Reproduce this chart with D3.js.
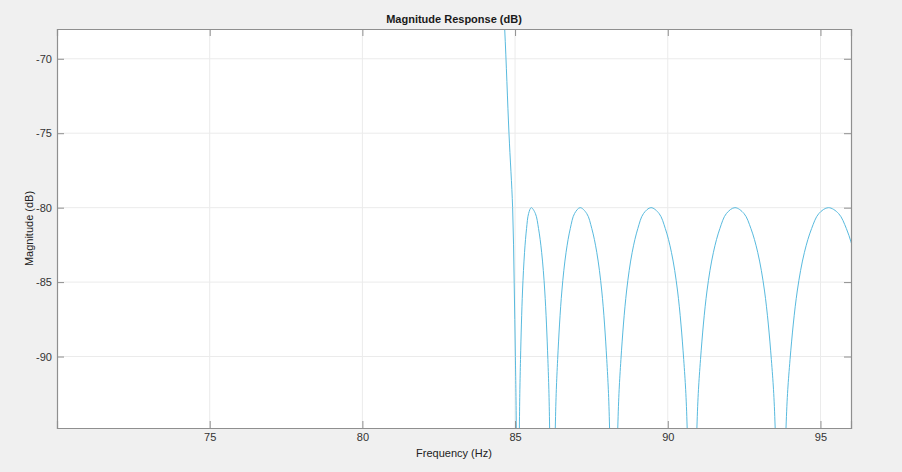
<!DOCTYPE html>
<html lang="en">

<head>
    <meta charset="UTF-8" />
    <title>Magnitude Response (dB)</title>
    <script src="https://d3js.org/d3.v7.min.js"></script>
    <style>
        body { margin: 0; background: #f0f0f0; }
        text { font-family: "Liberation Sans", Arial, Helvetica, sans-serif; }
    </style>
</head>

<body>
    <div id="chart"></div>

    <script>
        var w = 902;
        var h = 472;
        var margin = { top: 29, right: 51, bottom: 44, left: 57 };

        var freqHz = [84.50, 84.66, 84.80, 84.92, 84.97, 85.01, 85.04, 85.09,
            85.141, 85.178, 85.244, 85.31, 85.376, 85.442, 85.53, 85.666, 85.768, 85.87, 85.972, 86.074, 86.131, 86.21,
            86.317, 86.394, 86.532, 86.67, 86.808, 86.946, 87.13, 87.348, 87.512, 87.675, 87.839, 88.002, 88.094, 88.22,
            88.363, 88.466, 88.651, 88.835, 89.02, 89.204, 89.45, 89.718, 89.919, 90.12, 90.321, 90.522, 90.635, 90.79,
            90.954, 91.072, 91.284, 91.495, 91.707, 91.918, 92.20, 92.498, 92.722, 92.945, 93.169, 93.392, 93.517, 93.69,
            93.872, 94.004, 94.24, 94.475, 94.711, 94.946, 95.26, 95.596, 95.848, 96.00, 96.10];
        var magDb = [-62, -68, -75, -80, -85, -90, -94.8, -130,
            -94.8, -90.2, -85.6, -83.0, -81.4, -80.4, -80, -80.4, -81.4, -83.0, -85.6, -90.2, -94.8, -130,
            -94.8, -90.2, -85.6, -83.0, -81.4, -80.4, -80, -80.4, -81.4, -83.0, -85.6, -90.2, -94.8, -130,
            -94.8, -90.2, -85.6, -83.0, -81.4, -80.4, -80, -80.4, -81.4, -83.0, -85.6, -90.2, -94.8, -130,
            -94.8, -90.2, -85.6, -83.0, -81.4, -80.4, -80, -80.4, -81.4, -83.0, -85.6, -90.2, -94.8, -130,
            -94.8, -90.2, -85.6, -83.0, -81.4, -80.4, -80, -80.4, -81.4, -82.3, -83.0];

        var xTicks = [75, 80, 85, 90, 95];
        var yTicks = [-70, -75, -80, -85, -90];
        var xLimits = [70, 96];
        var yLimits = [-94.8, -68];

        var data = freqHz.map(function (f, i) { return { f: f, db: magDb[i] }; });

        var svg = d3.select("#chart")
            .append("svg")
            .attr("width", w)
            .attr("height", h);

        var xScale = d3.scaleLinear()
            .domain(xLimits)
            .range([margin.left, w - margin.right]);

        var yScale = d3.scaleLinear()
            .domain(yLimits)
            .range([h - margin.bottom, margin.top]);

        var pw = w - margin.left - margin.right;
        var ph = h - margin.top - margin.bottom;

        // White plot area
        svg.append("rect")
            .attr("x", margin.left)
            .attr("y", margin.top)
            .attr("width", pw)
            .attr("height", ph)
            .style("fill", "#ffffff");

        // Grid lines
        svg.selectAll(".xgrid")
            .data(xTicks)
            .enter()
            .append("line")
            .attr("x1", function (d) { return xScale(d); })
            .attr("x2", function (d) { return xScale(d); })
            .attr("y1", margin.top)
            .attr("y2", h - margin.bottom)
            .style("stroke", "#ebebeb")
            .style("stroke-width", 1);

        svg.selectAll(".ygrid")
            .data(yTicks)
            .enter()
            .append("line")
            .attr("x1", margin.left)
            .attr("x2", w - margin.right)
            .attr("y1", function (d) { return yScale(d); })
            .attr("y2", function (d) { return yScale(d); })
            .style("stroke", "#ebebeb")
            .style("stroke-width", 1);

        // Response line, clipped to the plot area
        svg.append("clipPath")
            .attr("id", "clip")
            .append("rect")
            .attr("x", margin.left)
            .attr("y", margin.top)
            .attr("width", pw)
            .attr("height", ph);

        var line = d3.line()
            .x(function (d) { return xScale(d.f); })
            .y(function (d) { return yScale(d.db); })
            .curve(d3.curveCatmullRom.alpha(0.5));

        svg.append("path")
            .datum(data)
            .attr("clip-path", "url(#clip)")
            .attr("d", line)
            .style("fill", "none")
            .style("stroke", "#58bade")
            .style("stroke-width", 1);

        // Axes: ticks pointing inward on all four sides
        var tickLen = 7;
        var hyphen = function (d) { return String(d); };
        var xAxis = d3.axisBottom(xScale).tickValues(xTicks).tickSize(-tickLen).tickPadding(5).tickFormat(hyphen);
        var xTop = d3.axisTop(xScale).tickValues(xTicks).tickSize(-tickLen).tickFormat("");
        var yAxis = d3.axisLeft(yScale).tickValues(yTicks).tickSize(-tickLen).tickPadding(5).tickFormat(hyphen);
        var yRight = d3.axisRight(yScale).tickValues(yTicks).tickSize(-tickLen).tickFormat("");

        var axes = [
            svg.append("g").attr("transform", "translate(0," + (h - margin.bottom) + ")").call(xAxis),
            svg.append("g").attr("transform", "translate(0," + margin.top + ")").call(xTop),
            svg.append("g").attr("transform", "translate(" + margin.left + ",0)").call(yAxis),
            svg.append("g").attr("transform", "translate(" + (w - margin.right) + ",0)").call(yRight)
        ];

        axes.forEach(function (g) {
            g.select(".domain").style("stroke", "#8f8f8f").style("stroke-width", 1.2);
            g.selectAll(".tick line").style("stroke", "#8f8f8f");
            g.selectAll(".tick text")
                .style("font-size", "11px")
                .style("fill", "#333333")
                .style("font-family", "'Liberation Sans', Arial, sans-serif");
        });

        // Title and axis labels
        svg.append("text")
            .attr("x", xScale((xLimits[0] + xLimits[1]) / 2))
            .attr("y", 23)
            .attr("text-anchor", "middle")
            .style("font-size", "11px")
            .style("font-weight", "bold")
            .style("fill", "#1a1a1a")
            .text("Magnitude Response (dB)");

        svg.append("text")
            .attr("x", xScale((xLimits[0] + xLimits[1]) / 2))
            .attr("y", 457)
            .attr("text-anchor", "middle")
            .style("font-size", "11px")
            .style("fill", "#222222")
            .text("Frequency (Hz)");

        svg.append("text")
            .attr("transform", "translate(33," + ((margin.top + h - margin.bottom) / 2) + ") rotate(-90)")
            .attr("text-anchor", "middle")
            .style("font-size", "11px")
            .style("fill", "#222222")
            .text("Magnitude (dB)");
    </script>
</body>

</html>
